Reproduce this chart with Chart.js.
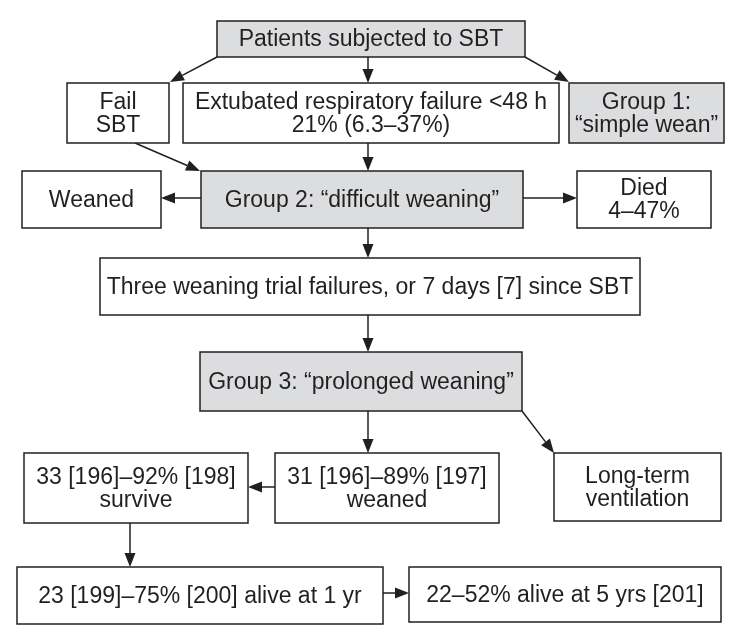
<!DOCTYPE html>
<html>
<head>
<meta charset="utf-8">
<script src="https://cdn.jsdelivr.net/npm/chart.js@4"></script>
<style>
  html, body { margin: 0; padding: 0; background: #fff; }
  #wrap { width: 732px; height: 643px; }
</style>
</head>
<body>
<div id="wrap"><canvas id="flow" width="732" height="643"></canvas></div>
<script>
// boxes of the flowchart, in chart units (x: 0-732, y: 0-643 from top)
const boxText = [
    ['Patients subjected to SBT'],
    ['Fail', 'SBT'],
    ['Extubated respiratory failure <48 h', '21% (6.3\u201337%)'],
    ['Group 1:', '\u201csimple wean\u201d'],
    ['Weaned'],
    ['Group 2: \u201cdifficult weaning\u201d'],
    ['Died', '4\u201347%'],
    ['Three weaning trial failures, or 7 days [7] since SBT'],
    ['Group 3: \u201cprolonged weaning\u201d'],
    ['33 [196]\u201392% [198]', 'survive'],
    ['31 [196]\u201389% [197]', 'weaned'],
    ['Long-term', 'ventilation'],
    ['23 [199]\u201375% [200] alive at 1 yr'],
    ['22\u201352% alive at 5 yrs [201]']
];
const boxLeft   = [217, 67, 183, 569, 22, 201, 577, 100, 200, 24, 275, 554, 17, 409];
const boxRight  = [525, 169, 559, 724, 161, 523, 711, 640, 522, 248, 499, 721, 383, 721];
const boxTop    = [21, 83, 83, 83, 171, 171, 171, 258, 352, 453, 453, 453, 567, 567];
const boxBottom = [57, 143, 143, 143, 228, 228, 228, 315, 411, 523, 523, 521, 624, 622];
const boxShaded = [true, false, false, true, false, true, false, false, true, false, false, false, false, false];

// arrows: start and end point (end gets the head)
const arrowX1 = [368, 217, 525, 368, 135, 201, 523, 368, 368, 368, 522, 275, 130, 383];
const arrowY1 = [57, 57, 57, 143, 143, 198, 198, 228, 315, 411, 411, 487, 523, 593];
const arrowX2 = [368, 170, 569, 368, 200, 161, 577, 368, 368, 368, 554, 248, 130, 409];
const arrowY2 = [83, 82, 82, 171, 171, 198, 198, 258, 352, 453, 453, 487, 567, 593];

const ink = '#231f20';
const shade = '#dcdddf';

// draws the boxes and arrows from the arrays above through the chart scales
const flowPlugin = {
    id: 'flow',
    afterDatasetsDraw(chart) {
        const ctx = chart.ctx;
        const xs = chart.scales.x;
        const ys = chart.scales.y;
        ctx.save();
        ctx.lineWidth = 1.5;
        ctx.strokeStyle = ink;
        ctx.fillStyle = ink;

        // arrows first, boxes on top
        for (let i = 0; i < arrowX1.length; i++) {
            const x1 = xs.getPixelForValue(arrowX1[i]);
            const y1 = ys.getPixelForValue(arrowY1[i]);
            const x2 = xs.getPixelForValue(arrowX2[i]);
            const y2 = ys.getPixelForValue(arrowY2[i]);
            const ang = Math.atan2(y2 - y1, x2 - x1);
            const len = 14, half = 5.5;
            const bx = x2 - len * Math.cos(ang);
            const by = y2 - len * Math.sin(ang);
            ctx.beginPath();
            ctx.moveTo(x1, y1);
            ctx.lineTo(bx, by);
            ctx.stroke();
            ctx.beginPath();
            ctx.moveTo(x2, y2);
            ctx.lineTo(bx + half * Math.sin(ang), by - half * Math.cos(ang));
            ctx.lineTo(bx - half * Math.sin(ang), by + half * Math.cos(ang));
            ctx.closePath();
            ctx.fill();
        }

        ctx.font = '23px "Liberation Sans", Arial, sans-serif';
        ctx.textAlign = 'center';
        ctx.textBaseline = 'middle';
        for (let i = 0; i < boxText.length; i++) {
            const l = xs.getPixelForValue(boxLeft[i]);
            const r = xs.getPixelForValue(boxRight[i]);
            const t = ys.getPixelForValue(boxTop[i]);
            const b = ys.getPixelForValue(boxBottom[i]);
            ctx.fillStyle = boxShaded[i] ? shade : '#fff';
            ctx.fillRect(l, t, r - l, b - t);
            ctx.strokeRect(l, t, r - l, b - t);
            ctx.fillStyle = ink;
            const lines = boxText[i];
            const lh = 23;
            const cx = (l + r) / 2;
            const cy = (t + b) / 2 + 1;
            lines.forEach((s, k) => {
                ctx.fillText(s, cx, cy + (k - (lines.length - 1) / 2) * lh);
            });
        }
        ctx.restore();
    }
};

new Chart(document.getElementById('flow'), {
    type: 'scatter',
    data: { datasets: [{ data: [], showLine: false }] },
    options: {
        responsive: false,
        animation: false,
        layout: { padding: 0 },
        plugins: { legend: { display: false }, tooltip: { enabled: false } },
        scales: {
            x: { type: 'linear', min: 0, max: 732, display: false },
            y: { type: 'linear', min: 0, max: 643, reverse: true, display: false }
        }
    },
    plugins: [flowPlugin]
});
</script>
</body>
</html>
